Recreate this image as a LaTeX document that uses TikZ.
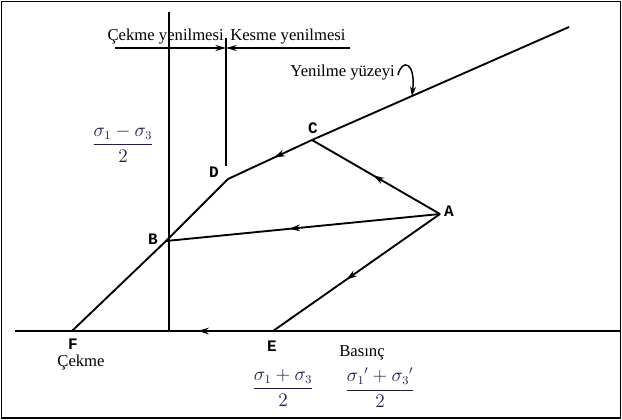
\documentclass[tikz,border=0pt]{standalone}
\usepackage{fontspec}
\setmainfont{Liberation Serif}
\newfontfamily\labfont{Liberation Mono}
\usetikzlibrary{arrows.meta,decorations.markings}
\definecolor{mathc}{RGB}{30,30,75}
\begin{document}
\begin{tikzpicture}[x=0.75pt,y=-0.75pt,
  pathln/.style={line width=1.4pt,black},
  axisln/.style={line width=1pt,black},
  midarrow/.style={postaction={decorate},decoration={markings,mark=at position #1 with {\arrow{Stealth[length=8pt,width=5pt]}}}},
  ptlab/.style={font=\labfont\bfseries\fontsize{12}{14}\selectfont,inner sep=0pt},
  txt/.style={font=\fontsize{12.5}{14}\selectfont,inner sep=0pt},
  frac/.style={text=mathc,inner sep=0pt,font=\fontsize{13.5}{16}\selectfont}]
\useasboundingbox (0,0) rectangle (622,420);
\draw[line width=0.9pt] (1.5,1.5) rectangle (620.5,418);
% points
\coordinate (F) at (72,331);
\coordinate (B) at (166,241);
\coordinate (D) at (228,179);
\coordinate (C) at (312,140);
\coordinate (A) at (440,214);
\coordinate (E) at (273,331);
\coordinate (T) at (569,27);
\coordinate (xl) at (15,331);
\coordinate (xr) at (621,331);
\coordinate (yt) at (169,12);
\coordinate (yb) at (169,331);
\coordinate (kt) at (226,38);
\coordinate (kb) at (226,166);
\coordinate (hl) at (115,48);
\coordinate (hm) at (226,48);
\coordinate (hr) at (350,48);
\coordinate (cs) at (398,75);
\coordinate (ce) at (412,96);
% axes
\draw[axisln] (xr) -- (E);
\draw[axisln,midarrow=0.29] (E) -- (xl);
\draw[axisln] (yt) -- (yb);
\draw[axisln] (kt) -- (kb);
\draw[axisln,-{Stealth[length=8pt,width=4.5pt]}] (hl) -- (hm);
\draw[axisln,-{Stealth[length=8pt,width=4.5pt]}] (hr) -- (hm);
% stress path
\draw[pathln] (F) -- (B) -- (D);
\draw[pathln,midarrow=0.45] (C) -- (D);
\draw[pathln] (C) -- (T);
\draw[pathln,midarrow=0.52] (A) -- (C);
\draw[pathln,midarrow=0.55] (A) -- (B);
\draw[pathln,midarrow=0.56] (A) -- (E);
\draw[line width=1.1pt,-{Stealth[length=7pt,width=4.5pt]}] (cs) .. controls (402,58) and (416,62) .. (ce);
% labels
\node[ptlab] (lA) at (449,211) {A};
\node[ptlab] (lB) at (153,239) {B};
\node[ptlab] (lC) at (313,128) {C};
\node[ptlab] (lD) at (214,172) {D};
\node[ptlab] (lE) at (272,346) {E};
\node[ptlab] (lF) at (73,344) {F};
\node[txt,anchor=east] (tcek) at (224,37) {Çekme yenilmesi};
\node[txt,anchor=west] (tkes) at (230,37) {Kesme yenilmesi};
\node[txt,anchor=east] (tyen) at (395,73) {Yenilme yüzeyi};
\node[txt] (tcm) at (81,362) {Çekme};
\node[txt] (tbas) at (362,353) {Basınç};
\node[frac] (f1) at (123,144) {$\displaystyle\frac{\sigma_1-\sigma_3}{2}$};
\node[frac] (f2) at (283,388) {$\displaystyle\frac{\sigma_1+\sigma_3}{2}$};
\node[frac] (f3) at (380,388) {$\displaystyle\frac{{\sigma_1}'+{\sigma_3}'}{2}$};
\end{tikzpicture}
\end{document}
